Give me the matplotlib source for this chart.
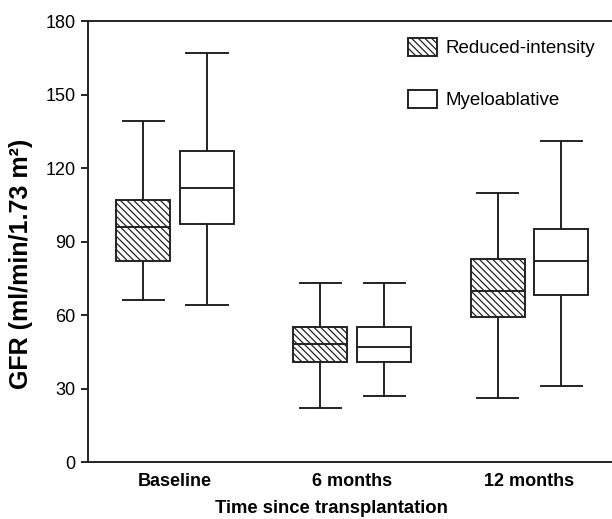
import matplotlib
matplotlib.use('Agg')
import matplotlib.pyplot as plt
from matplotlib.patches import Patch

plt.rcParams['font.family'] = ['Liberation Sans', 'DejaVu Sans']
plt.rcParams['hatch.linewidth'] = 0.9

groups = ['Baseline', '6 months', '12 months']
series = ['Reduced-intensity', 'Myeloablative']

# box stats (whisker low, q1, median, q3, whisker high)
ri_low = [66, 22, 26]
ri_q1 = [82, 41, 59]
ri_med = [96, 48, 70]
ri_q3 = [107, 55, 83]
ri_high = [139, 73, 110]

ma_low = [64, 27, 31]
ma_q1 = [97, 41, 68]
ma_med = [112, 47, 82]
ma_q3 = [127, 55, 95]
ma_high = [167, 73, 131]

yticks = [0, 30, 60, 90, 120, 150, 180]

line_col = '#222222'
lw = 1.4
hatch = '\\' * 5


def make_stats(low, q1, med, q3, high):
    stats = []
    for i in range(len(low)):
        stats.append({'whislo': low[i], 'q1': q1[i], 'med': med[i],
                      'q3': q3[i], 'whishi': high[i], 'fliers': []})
    return stats


fig = plt.figure(figsize=(6.12, 5.19), dpi=100)
ax = fig.add_axes([0.1438, 0.1098, 0.8562, 0.8497])

pos = [1, 2, 3]
off = 0.18
width = 0.305
capw = 0.232

common = dict(widths=width, capwidths=capw, patch_artist=True,
              showfliers=False,
              whiskerprops=dict(color=line_col, linewidth=lw),
              capprops=dict(color=line_col, linewidth=lw),
              medianprops=dict(color=line_col, linewidth=lw))

ax.bxp(make_stats(ri_low, ri_q1, ri_med, ri_q3, ri_high),
       positions=[p - off for p in pos],
       boxprops=dict(facecolor='white', edgecolor=line_col, linewidth=lw, hatch=hatch),
       **common)
ax.bxp(make_stats(ma_low, ma_q1, ma_med, ma_q3, ma_high),
       positions=[p + off for p in pos],
       boxprops=dict(facecolor='white', edgecolor=line_col, linewidth=lw),
       **common)

ax.set_xlim(0.508, 3.466)
ax.set_ylim(0, 180)
ax.set_yticks(yticks)
ax.set_xticks(pos)
ax.set_xticklabels(groups, fontsize=13, fontweight='bold')
ax.tick_params(axis='x', length=0, pad=8)
ax.tick_params(axis='y', direction='out', length=5, width=lw, labelsize=13, pad=4, color=line_col)

for s in ['left', 'bottom', 'top']:
    ax.spines[s].set_linewidth(lw)
    ax.spines[s].set_color(line_col)
ax.spines['right'].set_visible(False)

ax.set_ylabel('GFR (ml/min/1.73 m²)', fontsize=18, fontweight='bold')
ax.yaxis.set_label_coords(-0.105, 0.449)
ax.set_xlabel('Time since transplantation', fontsize=13.3, fontweight='bold', va='top')
ax.xaxis.set_label_coords(0.464, -0.086)

handles = [Patch(facecolor='white', edgecolor=line_col, linewidth=lw, hatch=hatch, label=series[0]),
           Patch(facecolor='white', edgecolor=line_col, linewidth=lw, label=series[1])]
ax.legend(handles=handles, loc='upper left', bbox_to_anchor=(0.611, 0.962),
          frameon=False, fontsize=13.5, borderpad=0, borderaxespad=0,
          handlelength=1.55, handleheight=1.1, handletextpad=0.42, labelspacing=1.75)

fig.savefig('out.png', dpi=100)
